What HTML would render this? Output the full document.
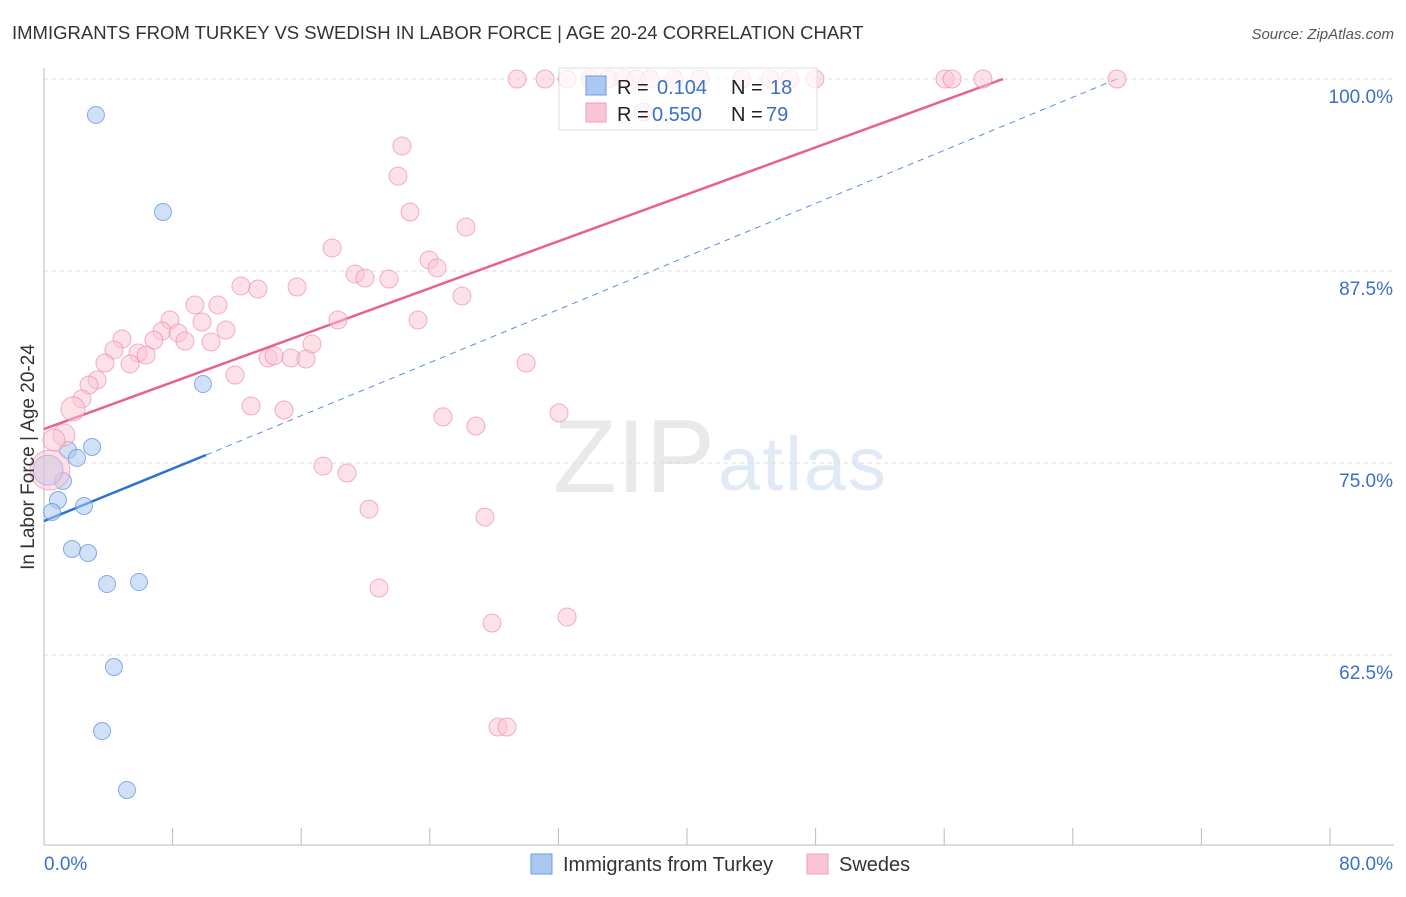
<!DOCTYPE html>
<html><head><meta charset="utf-8"><style>
body{margin:0;background:#fff;font-family:"Liberation Sans",sans-serif;}
svg text{font-family:"Liberation Sans",sans-serif;}
</style></head><body>
<svg id="c" width="1406" height="892" xmlns="http://www.w3.org/2000/svg">
<text x="12" y="39" font-size="18.5" fill="#333">IMMIGRANTS FROM TURKEY VS SWEDISH IN LABOR FORCE | AGE 20-24 CORRELATION CHART</text>
<text x="1394" y="39" font-size="15" fill="#555" font-style="italic" text-anchor="end">Source: ZipAtlas.com</text>
<g opacity="0.18">
<text x="553" y="492" font-size="104" font-family="Liberation Serif" fill="#888" textLength="162">ZIP</text>
<text x="718" y="490" font-size="76" fill="#5b8fd8" textLength="168">atlas</text>
</g>
<g id="grid"></g>
<g id="axes"></g>
<g id="lines"></g>
<g id="pts"></g>
<text transform="translate(34,457) rotate(-90)" font-size="19" fill="#333" text-anchor="middle">In Labor Force | Age 20-24</text>
<g>
<rect x="559" y="68" width="258" height="62" fill="#fff" fill-opacity="0.7" stroke="#ddd"/>
<rect x="586" y="76" width="20" height="19" fill="#aac8f0" stroke="#6a9ee0"/>
<rect x="586" y="103" width="20" height="19" fill="#f9c4d4" stroke="#f0a0b8"/>
<text x="617" y="94" font-size="20" fill="#222">R = <tspan x="657" fill="#3a70c8">0.104</tspan></text>
<text x="731" y="94" font-size="20" fill="#222">N = <tspan x="770" fill="#3a70c8">18</tspan></text>
<text x="617" y="121" font-size="20" fill="#222">R = <tspan x="652" fill="#3a70c8">0.550</tspan></text>
<text x="731" y="121" font-size="20" fill="#222">N = <tspan x="766" fill="#3a70c8">79</tspan></text>
</g>
<g>
<rect x="531" y="854" width="21" height="20" fill="#aac8f0" stroke="#6a9ee0"/>
<text x="563" y="871" font-size="20" fill="#333">Immigrants from Turkey</text>
<rect x="807" y="854" width="21" height="20" fill="#f9c4d4" stroke="#f0a0b8"/>
<text x="839" y="871" font-size="20" fill="#333">Swedes</text>
</g>
</svg>
<script>
const xTicks=[0,8,16,24,32,40,48,56,64,72,80];
const yTicks=[62.5,75,87.5,100];
const yTickLabels=["62.5%","75.0%","87.5%","100.0%"];
const xEndLabels=["0.0%","80.0%"];
const turkeyX=[3.23,7.40,9.89,2.99,1.49,2.05,1.18,0.87,0.50,2.49,1.74,2.74,3.92,5.91,4.35,3.61,5.16,0.25];
const turkeyY=[97.66,91.34,80.14,76.04,75.85,75.33,73.83,72.59,71.81,72.20,69.40,69.14,67.12,67.25,61.72,57.55,53.71,74.54];
const turkeyR=[8.5,8.5,8.5,8.5,8.5,8.5,8.5,8.5,8.5,8.5,8.5,8.5,8.5,8.5,8.5,8.5,8.5,15];
const swedesX=[29.43,31.17,32.54,33.97,35.09,36.08,36.83,37.70,39.19,40.81,43.42,45.17,46.41,47.96,56.05,56.49,58.41,66.75,
22.27,22.02,22.77,26.25,17.92,23.95,24.45,19.35,19.97,21.46,26.00,12.25,13.31,15.74,9.39,10.82,7.84,9.83,18.29,23.27,7.34,8.34,11.32,4.85,6.84,8.77,10.39,16.67,4.35,5.85,6.35,13.94,14.31,15.37,16.30,3.79,5.35,29.99,11.88,3.30,2.80,2.36,12.88,14.93,32.04,24.82,26.87,1.80,1.24,0.62,0.37,17.36,18.85,20.22,27.43,20.84,32.54,27.87,28.24,28.80,37.26];
const swedesY=[100,100,100,100,100,100,100,100,100,100,100,100,100,100,100,100,100,100,
95.64,93.68,91.34,90.36,89.0,88.22,87.70,87.30,87.04,86.98,85.87,86.52,86.33,86.46,85.29,85.29,84.31,84.18,84.31,84.31,83.59,83.46,83.66,83.07,83.0,82.94,82.88,82.75,82.36,82.16,82.03,81.84,81.97,81.84,81.77,81.51,81.45,81.51,80.73,80.40,80.08,79.17,78.71,78.45,78.26,78.0,77.41,78.52,76.82,76.5,74.54,74.80,74.35,72.0,71.48,66.86,64.97,64.58,57.81,57.81,97.85];
const swedesBig={65:12,66:11,67:11,68:20};
const turkeyLine=[[0,71.22],[10.08,75.52],[66.75,100]];
const swedesLine=[[0,77.21],[59.66,100]];
const NS="http://www.w3.org/2000/svg";
const X=v=>44+v/80*1286, Y=v=>79+(100-v)*15.36;
function mk(p,t,a){const e=document.createElementNS(NS,t);for(const k in a)e.setAttribute(k,a[k]);document.getElementById(p).appendChild(e);return e;}
yTicks.forEach((t,i)=>{
 let g=mk('grid','line',{x1:44,x2:1394,y1:Y(t),y2:Y(t),stroke:'#ddd','stroke-dasharray':'4,4'});
 
 
 let l=mk('axes','text',{x:1393,y:Y(t)+24,'font-size':19,fill:'#3a70c8','text-anchor':'end'});l.textContent=yTickLabels[i];
 
 
});
let ax=mk('axes','line',{x1:44,x2:44,y1:68,y2:845,stroke:'#bbb'});


let bx=mk('axes','line',{x1:44,x2:1394,y1:845,y2:845,stroke:'#bbb'});


xTicks.forEach(t=>{let k=mk('axes','line',{x1:X(t),x2:X(t),y1:828,y2:845,stroke:'#bbb'});
 
 });
[[0,'start',xEndLabels[0]],[80,'end',xEndLabels[1]]].forEach(([v,a,s])=>{
 let l=mk('axes','text',{x:v==0?X(v):X(v)+63,y:870,'font-size':19,fill:'#3a70c8','text-anchor':a});l.textContent=s;
 
 });
turkeyX.forEach((x,i)=>{let c=mk('pts','circle',{cx:X(x),cy:Y(turkeyY[i]),r:turkeyR[i],fill:'#aac8f0','fill-opacity':0.55,stroke:'#5a8fdc','stroke-opacity':0.7});
 
 });
swedesX.forEach((x,i)=>{let c=mk('pts','circle',{cx:X(x),cy:Y(swedesY[i]),r:swedesBig[i]||9,fill:'#f9c4d4','fill-opacity':0.5,stroke:'#ee8fad','stroke-opacity':0.7});
 
 });
let t1=mk('lines','line',{x1:X(turkeyLine[0][0]),y1:Y(turkeyLine[0][1]),x2:X(turkeyLine[1][0]),y2:Y(turkeyLine[1][1]),stroke:'#2a72d4','stroke-width':2.5});


let t2=mk('lines','line',{x1:X(turkeyLine[1][0]),y1:Y(turkeyLine[1][1]),x2:X(turkeyLine[2][0]),y2:Y(turkeyLine[2][1]),stroke:'#5a8fdc','stroke-width':1,'stroke-dasharray':'6,5'});


let s1=mk('lines','line',{x1:X(swedesLine[0][0]),y1:Y(swedesLine[0][1]),x2:X(swedesLine[1][0]),y2:Y(swedesLine[1][1]),stroke:'#e8608c','stroke-width':2.5});


</script>
</body></html>
